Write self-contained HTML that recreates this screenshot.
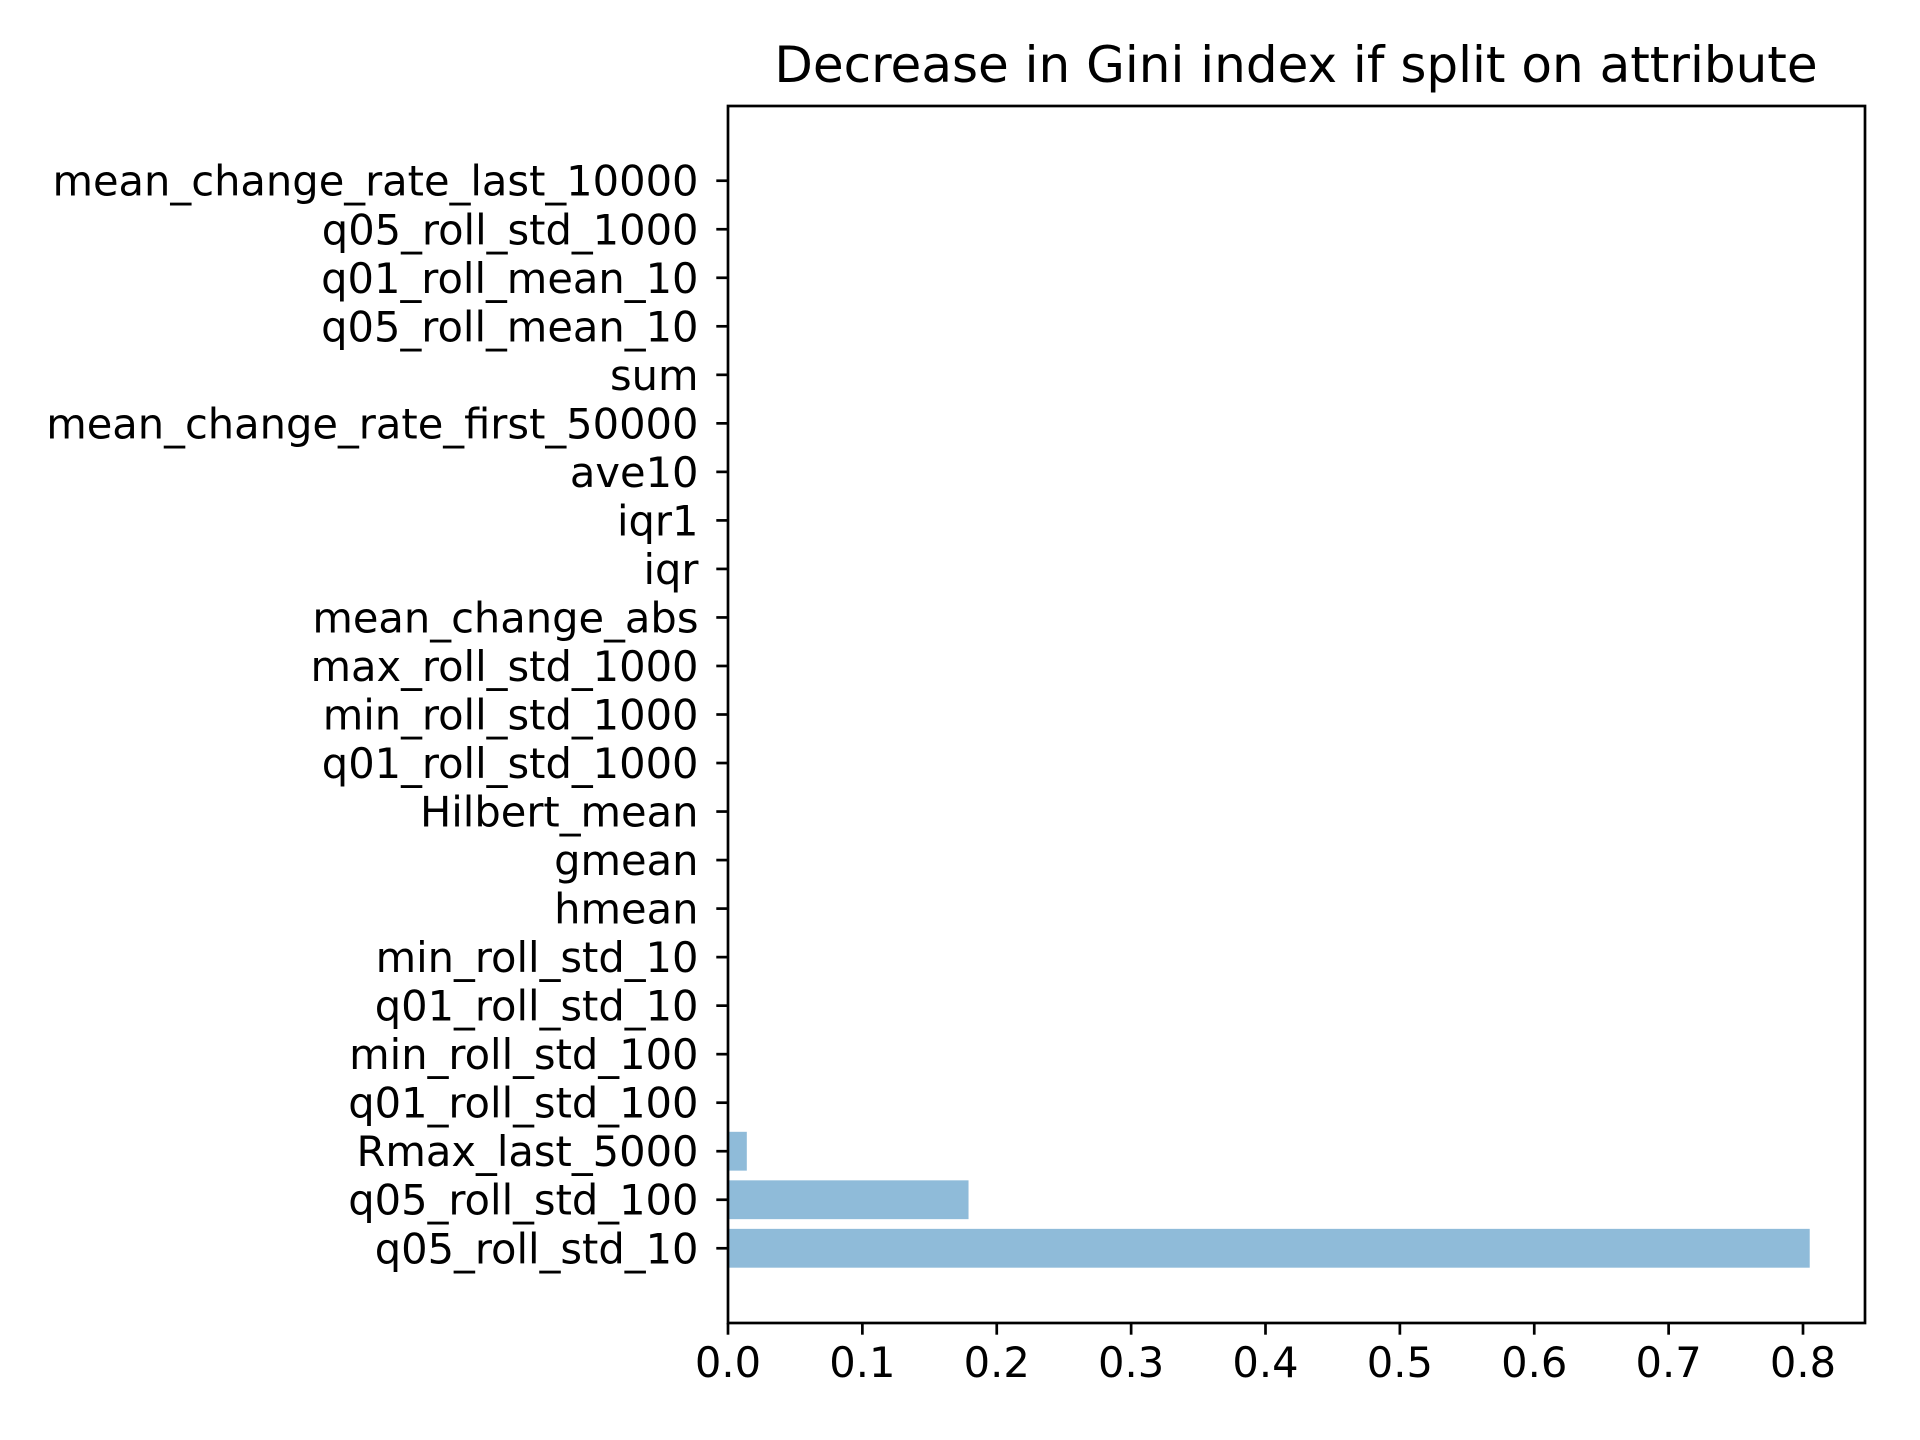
<!DOCTYPE html>
<html><head><meta charset="utf-8"><style>body{margin:0;background:#fff}svg{display:block}text{font-family:"DejaVu Sans","Liberation Sans",sans-serif;fill:#000}</style></head>
<body>
<svg id="chart" width="1920" height="1440" viewBox="0 0 1920 1440" xmlns="http://www.w3.org/2000/svg">
<rect width="1920" height="1440" fill="#fff"/>
<text x="1296" y="82" font-size="50" text-anchor="middle">Decrease in Gini index if split on attribute</text>
<g id="bars"></g><g id="yticks"></g><g id="xticks"></g>
<rect x="728" y="106" width="1137" height="1217" fill="none" stroke="#000" stroke-width="2.7"/>
</svg>
<script>
const categories = ["q05_roll_std_10","q05_roll_std_100","Rmax_last_5000","q01_roll_std_100","min_roll_std_100","q01_roll_std_10","min_roll_std_10","hmean","gmean","Hilbert_mean","q01_roll_std_1000","min_roll_std_1000","max_roll_std_1000","mean_change_abs","iqr","iqr1","ave10","mean_change_rate_first_50000","sum","q05_roll_mean_10","q01_roll_mean_10","q05_roll_std_1000","mean_change_rate_last_10000"];
const values = [0.805,0.179,0.014,0,0,0,0,0,0,0,0,0,0,0,0,0,0,0,0,0,0,0,0];
const xTicks = [0,0.1,0.2,0.3,0.4,0.5,0.6,0.7,0.8];
const xTickLabels = ["0.0","0.1","0.2","0.3","0.4","0.5","0.6","0.7","0.8"];
const NS="http://www.w3.org/2000/svg";
const L=728,R=1865,T=106,B=1323;
const xMax=(R-L)/1343.75;
function xs(v){return L+v/xMax*(R-L);}
const yMin=-0.4-1.14, yMax=22.4+1.14;
function ys(i){return B-(i-yMin)/(yMax-yMin)*(B-T);}
const unit=(B-T)/(yMax-yMin);
const gb=document.getElementById('bars'),gy=document.getElementById('yticks'),gx=document.getElementById('xticks');
function mk(tag,at){const e=document.createElementNS(NS,tag);for(const k in at)e.setAttribute(k,at[k]);return e;}
categories.forEach((c,i)=>{
  const y=ys(i);
  if(values[i]>0){
    const r=mk('rect',{x:xs(0),y:y-0.4*unit,width:xs(values[i])-xs(0),height:0.8*unit,fill:'#1f77b4','fill-opacity':0.5});
    
    
    gb.appendChild(r);
  }
  const tk=mk('line',{x1:L-11.7,x2:L,y1:y,y2:y,stroke:'#000','stroke-width':2.7});
  
  
  gy.appendChild(tk);
  const t=mk('text',{x:L-29.5,y:y+15,'font-size':41.6,'text-anchor':'end'});
  
  
  t.textContent=c;gy.appendChild(t);
});
xTicks.forEach((v,i)=>{
  const x=xs(v);
  const tk=mk('line',{x1:x,x2:x,y1:B,y2:B+11.7,stroke:'#000','stroke-width':2.7});
  
  
  gx.appendChild(tk);
  const t=mk('text',{x:x,y:B+54,'font-size':41.6,'text-anchor':'middle'});
  
  
  t.textContent=xTickLabels[i];gx.appendChild(t);
});
</script>
</body></html>
